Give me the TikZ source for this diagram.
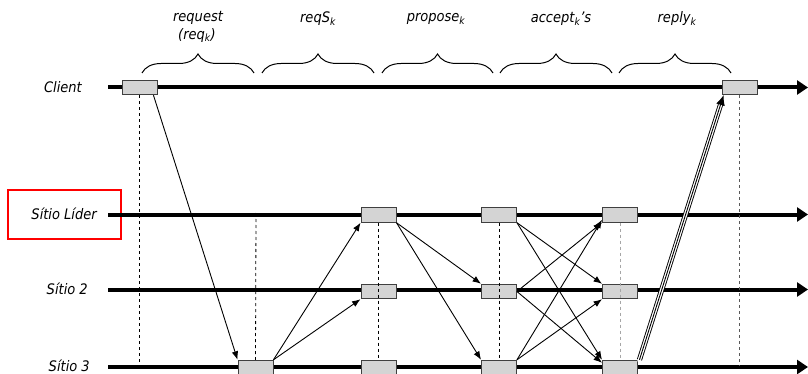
\documentclass[tikz,border=0pt]{standalone}
\usepackage{fontspec}
\setmainfont{DejaVu Sans Condensed}
\usetikzlibrary{arrows.meta,decorations.pathreplacing}

\tikzset{
  lbl/.style={font=\fontsize{14.5}{16}\selectfont\itshape, inner sep=0pt},
  timeline/.style={line width=4pt, -{Triangle[length=11pt,width=14pt]}},
  evbox/.style={draw=black!75, fill=black!17, line width=0.9pt,
                minimum width=35pt, minimum height=14.5pt, inner sep=0pt},
  msg/.style={line width=0.9pt, -{Latex[length=8.5pt,width=6.5pt]}},
  sync/.style={line width=0.8pt, dash pattern=on 3pt off 3pt},
  phase/.style={line width=1pt, decorate, decoration={brace, amplitude=19pt}},
  hilite/.style={draw=red, line width=2.2pt}
}

\begin{document}
\begin{tikzpicture}[x=1pt, y=-1pt]
\useasboundingbox (0,0) rectangle (808,374);

% process labels
\node[lbl, anchor=east] (lclient) at (82,87) {Client};
\node[lbl, anchor=east] (llider)  at (97,214) {Sítio Líder};
\node[lbl, anchor=east] (ls2)     at (88,289) {Sítio 2};
\node[lbl, anchor=east] (ls3)     at (90,366) {Sítio 3};
\node[hilite, minimum width=113pt, minimum height=49pt, inner sep=0pt] (leader) at (64.5,214.5) {};

% timelines
\coordinate (tc0) at (108,87.5);  \coordinate (tc1) at (808,87.5);
\coordinate (tl0) at (108,214.5); \coordinate (tl1) at (808,214.5);
\coordinate (t20) at (108,289.5); \coordinate (t21) at (808,289.5);
\coordinate (t30) at (108,367);   \coordinate (t31) at (808,367);
\draw[timeline] (tc0) -- (tc1);
\draw[timeline] (tl0) -- (tl1);
\draw[timeline] (t20) -- (t21);
\draw[timeline] (t30) -- (t31);

% synchronisation marks
\coordinate (d1t) at (256,213); \coordinate (d1b) at (256,360);
\coordinate (cb3) at (139.5,366);
\coordinate (cb4) at (739.5,366);

% events
\node[evbox] (c1)  at (139.5,87.5) {};
\node[evbox] (c2)  at (739.5,87.5) {};
\node[evbox] (l1)  at (378.5,215) {};
\node[evbox] (l2)  at (499,215) {};
\node[evbox] (l3)  at (620,215) {};
\node[evbox] (s22) at (378.5,291.5) {};
\node[evbox] (s23) at (499,291.5) {};
\node[evbox] (s24) at (620,291.5) {};
\node[evbox] (s31) at (255.5,367.5) {};
\node[evbox] (s32) at (378.5,367.5) {};
\node[evbox] (s33) at (499,367.5) {};
\node[evbox] (s34) at (620,367.5) {};

% dashed verticals
\draw[sync] (c1.south) -- (cb3);
\draw[sync] (d1t) -- (s31.north);
\draw[sync] (l1.south) -- (s32.north);
\draw[sync] (l2.south) -- (s33.north);
\draw[sync, draw=black!35] (l3.south) -- (s34.north);
\draw[sync, draw=black!65] (c2.south) -- (cb4);

% request
\draw[msg] ([xshift=-4pt]c1.south east) -- (s31.north west);
% reqS
\draw[msg] (s31.north east) -- (l1.south west);
\draw[msg] (s31.north east) -- (s22.south west);
% propose
\draw[msg] (l1.south east) -- (s23.north west);
\draw[msg] (l1.south east) -- (s33.north west);
% accepts
\draw[msg] (l2.south east) -- (s24.north west);
\draw[msg] (l2.south east) -- (s34.north west);
\draw[msg] (s23.east) -- (l3.south west);
\draw[msg] (s23.east) -- ([yshift=-3pt]s34.north west);
\draw[msg] (s33.north east) -- ([yshift=3pt]l3.south west);
\draw[msg] (s33.north east) -- (s24.south west);

% reply (triple line)
\coordinate (rp0) at ([xshift=1.5pt]s34.north east);
\coordinate (rp1) at ([xshift=2pt]c2.south west);
\draw[line width=5.2pt, shorten >=7pt] (rp0) -- (rp1);
\draw[white, line width=3.4pt, shorten >=7pt, shorten <=-2pt] (rp0) -- (rp1);
\draw[line width=0.9pt, -{Latex[length=10pt,width=9pt]}] (rp0) -- (rp1);

% phase braces
\coordinate (b1a) at (142,73); \coordinate (b1b) at (254,73);
\coordinate (b2a) at (262,73); \coordinate (b2b) at (374,73);
\coordinate (b3a) at (382,73); \coordinate (b3b) at (493,73);
\coordinate (b4a) at (500,73); \coordinate (b4b) at (612,73);
\coordinate (b5a) at (619,73); \coordinate (b5b) at (731,73);
\draw[phase] (b1a) -- (b1b);
\draw[phase] (b2a) -- (b2b);
\draw[phase] (b3a) -- (b3b);
\draw[phase] (b4a) -- (b4b);
\draw[phase] (b5a) -- (b5b);

% phase labels
\node[lbl] (p1)  at (198,18) {request};
\node[lbl] (p1b) at (197,35) {(req\textsubscript{k})};
\node[lbl] (p2)  at (318,19) {reqS\textsubscript{k}};
\node[lbl] (p3)  at (436,19) {propose\textsubscript{k}};
\node[lbl] (p4)  at (561,19) {accept\textsubscript{k}’s};
\node[lbl] (p5)  at (677,19) {reply\textsubscript{k}};
\end{tikzpicture}
\end{document}
